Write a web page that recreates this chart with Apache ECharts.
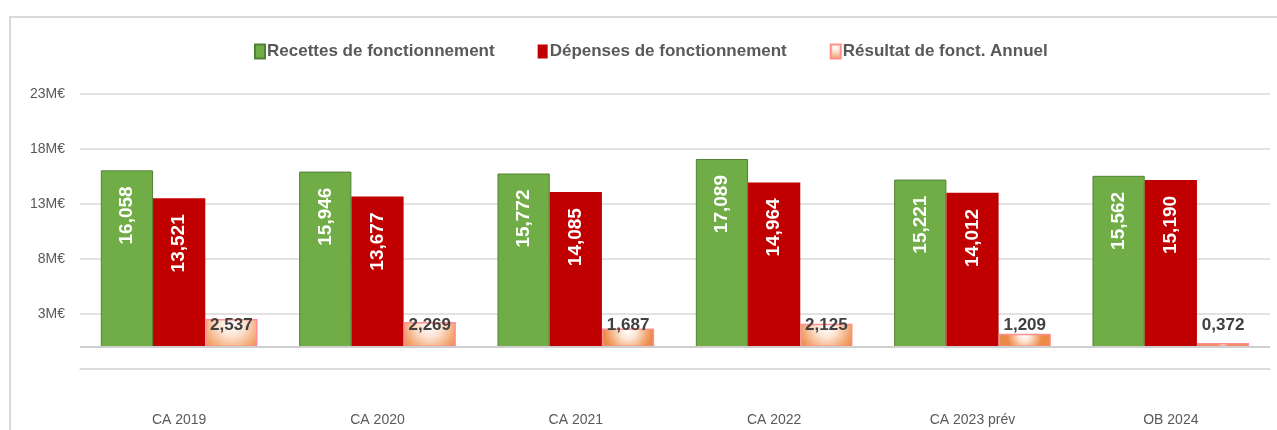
<!DOCTYPE html>
<html>
<head>
<meta charset="utf-8">
<style>
  html, body { margin: 0; padding: 0; background: #fff; overflow: hidden; }
  .frame {
    position: absolute; left: 9px; top: 16px; width: 1400px; height: 500px;
    border-top: 2px solid #d9d9d9; border-left: 2px solid #d9d9d9;
  }
  #chart { position: absolute; left: 0; top: 0; width: 1277px; height: 430px; }
</style>
<script src="https://cdn.jsdelivr.net/npm/echarts@6/dist/echarts.min.js"></script>
</head>
<body>
<div class="frame"></div>
<div id="chart"></div>
<script>
const categories = ['CA 2019', 'CA 2020', 'CA 2021', 'CA 2022', 'CA 2023 prév', 'OB 2024']
const recettes = [16.058, 15.946, 15.772, 17.089, 15.221, 15.562]
const depenses = [13.521, 13.677, 14.085, 14.964, 14.012, 15.190]
const resultat = [2.537, 2.269, 1.687, 2.125, 1.209, 0.372]
const yMin = -2
const yMax = 23
const yStep = 5

const FONT = 'Liberation Sans, Arial, sans-serif'
const GREY = '#595959'

function fmt(v) {
  return v.toFixed(3).replace('.', ',')
}

const insideLabel = {
  show: true,
  position: 'insideTop',
  rotate: 90,
  align: 'right',
  verticalAlign: 'middle',
  distance: 16,
  color: '#fff',
  fontWeight: 'bold',
  fontSize: 19,
  fontFamily: FONT,
  formatter: (p) => fmt(p.value),
}

const chart = echarts.init(document.getElementById('chart'), null, { renderer: 'canvas' })

chart.setOption({
  animation: false,
  backgroundColor: 'transparent',
  legend: {
    left: 249,
    top: 38,
    icon: 'rect',
    itemWidth: 10,
    itemHeight: 14,
    itemGap: 43,
    textStyle: { color: GREY, fontSize: 17, fontWeight: 'bold', fontFamily: FONT, padding: [0, 0, 0, -3] },
  },
  grid: { left: 80, right: 7, top: 94, bottom: 61, containLabel: false, outerBoundsMode: 'none' },
  xAxis: {
    type: 'category',
    data: categories,
    axisTick: { show: false },
    axisLine: { onZero: false, lineStyle: { color: '#d9d9d9', width: 1.5 } },
    axisLabel: { color: GREY, fontSize: 14, fontFamily: FONT, margin: 44 },
  },
  yAxis: {
    type: 'value',
    min: yMin,
    max: yMax,
    interval: yStep,
    axisLine: { show: false },
    axisTick: { show: false },
    splitLine: { lineStyle: { color: '#d9d9d9', width: 1.5 } },
    axisLabel: {
      color: GREY,
      fontSize: 14,
      fontFamily: FONT,
      margin: 15,
      formatter: (v) => (v < 0 ? '' : v + 'M€'),
    },
  },
  series: [
    {
      name: 'Recettes de fonctionnement',
      type: 'bar',
      data: recettes,
      barGap: 0,
      barCategoryGap: '21%',
      itemStyle: { color: '#70ad47', borderColor: '#548235', borderWidth: 1 },
      label: insideLabel,
      markLine: {
        silent: true,
        symbol: 'none',
        label: { show: false },
        lineStyle: { color: '#cfcfcf', width: 2, type: 'solid' },
        data: [{ yAxis: 0 }],
      },
    },
    {
      name: 'Dépenses de fonctionnement',
      type: 'bar',
      data: depenses,
      barGap: 0,
      barCategoryGap: '21%',
      itemStyle: { color: '#c00000' },
      label: insideLabel,
    },
    {
      name: 'Résultat de fonct. Annuel',
      type: 'bar',
      data: resultat,
      barGap: 0,
      barCategoryGap: '21%',
      itemStyle: {
        color: {
          type: 'radial', x: 0.5, y: 0.15, r: 1.3,
          colorStops: [
            { offset: 0, color: '#ffffff' },
            { offset: 0.35, color: '#fce4d3' },
            { offset: 0.75, color: '#f3aa78' },
            { offset: 1, color: '#eb8a48' },
          ],
        },
        borderColor: '#ff8f8f',
        borderWidth: 1.5,
      },
      label: {
        show: true,
        position: 'insideBottom',
        distance: 13,
        color: '#404040',
        fontWeight: 'bold',
        fontSize: 17,
        fontFamily: FONT,
        formatter: (p) => fmt(p.value),
      },
    },
  ],
})
</script>
</body>
</html>
